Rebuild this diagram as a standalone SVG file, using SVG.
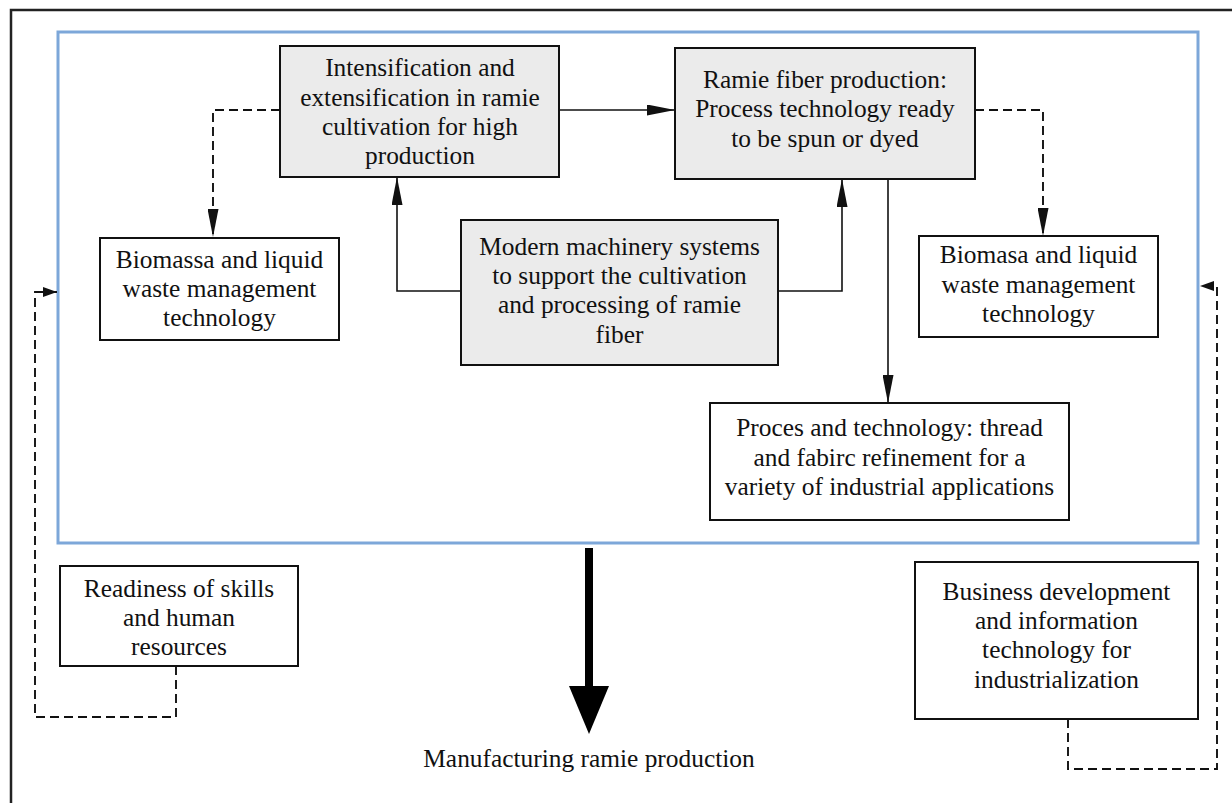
<svg xmlns="http://www.w3.org/2000/svg" width="1232" height="803" viewBox="0 0 1232 803">
<style>
.box{fill:#fff;stroke:#111;stroke-width:2}
.gray{fill:#ebebeb}
.t{font-family:"Liberation Serif","Times New Roman",serif;font-size:25.4px;fill:#111;text-anchor:middle}
.ln{fill:none;stroke:#111;stroke-width:1.6}
.dash{stroke-dasharray:9,5;stroke-width:1.9}
</style>
<defs>
<marker id="ah" markerUnits="userSpaceOnUse" markerWidth="28" markerHeight="11" refX="28" refY="5.5" orient="auto"><path d="M0,0 L28,5.5 L0,11 z" fill="#111"/></marker>
<marker id="ahs" markerUnits="userSpaceOnUse" markerWidth="14" markerHeight="10" refX="14" refY="5" orient="auto"><path d="M0,0 L14,5 L0,10 z" fill="#111"/></marker>
</defs>
<rect width="1232" height="803" fill="#fff"/>
<path d="M11,803 V10 H1232" fill="none" stroke="#222" stroke-width="2.5"/>
<rect x="58" y="32" width="1140" height="511" fill="none" stroke="#7da7d9" stroke-width="3"/>
<g id="connectors">
<path class="ln" d="M559,110 H675" marker-end="url(#ah)"/>
<path class="ln dash" d="M280,110 H213 V237" marker-end="url(#ah)"/>
<path class="ln" d="M461,291 H397 V177" marker-end="url(#ah)"/>
<path class="ln" d="M778,291 H842 V179" marker-end="url(#ah)"/>
<path class="ln" d="M888,179 V403" marker-end="url(#ah)"/>
<path class="ln dash" d="M975,110 H1043 V236" marker-end="url(#ah)"/>
<path class="ln dash" d="M176,666 V717 H35 V292 H57" marker-end="url(#ahs)"/>
<path class="ln dash" d="M1068,719 V769 H1217 V286 H1200" marker-end="url(#ahs)"/>
<rect x="585" y="548" width="8" height="140" fill="#000"/>
<polygon points="569,686 609,686 589,734" fill="#000"/>
</g>
<g id="n-intens">
<rect class="box gray" x="280" y="46" width="279" height="131"/>
<text class="t" x="420" y="76">Intensification and</text>
<text class="t" x="420" y="106">extensification in ramie</text>
<text class="t" x="420" y="135">cultivation for high</text>
<text class="t" x="420" y="164">production</text>
</g>
<g id="n-fiber">
<rect class="box gray" x="675" y="48" width="300" height="131"/>
<text class="t" x="825" y="88">Ramie fiber production:</text>
<text class="t" x="825" y="117">Process technology ready</text>
<text class="t" x="825" y="147">to be spun or dyed</text>
</g>
<g id="n-machinery">
<rect class="box gray" x="461" y="220" width="317" height="145"/>
<text class="t" x="619.5" y="255">Modern machinery systems</text>
<text class="t" x="619.5" y="284">to support the cultivation</text>
<text class="t" x="619.5" y="313">and processing of ramie</text>
<text class="t" x="619.5" y="343">fiber</text>
</g>
<g id="n-biomass-left">
<rect class="box" x="100" y="238" width="239" height="102"/>
<text class="t" x="219.5" y="268">Biomassa and liquid</text>
<text class="t" x="219.5" y="297">waste management</text>
<text class="t" x="219.5" y="326">technology</text>
</g>
<g id="n-biomass-right">
<rect class="box" x="919" y="236" width="239" height="101"/>
<text class="t" x="1038.5" y="263">Biomasa and liquid</text>
<text class="t" x="1038.5" y="293">waste management</text>
<text class="t" x="1038.5" y="322">technology</text>
</g>
<g id="n-proces">
<rect class="box" x="710" y="403" width="359" height="117"/>
<text class="t" x="889.5" y="436">Proces and technology: thread</text>
<text class="t" x="889.5" y="466">and fabirc refinement for a</text>
<text class="t" x="889.5" y="495">variety of industrial applications</text>
</g>
<g id="n-readiness">
<rect class="box" x="60" y="566" width="238" height="100"/>
<text class="t" x="179" y="597">Readiness of skills</text>
<text class="t" x="179" y="626">and human</text>
<text class="t" x="179" y="655">resources</text>
</g>
<g id="n-business">
<rect class="box" x="915" y="562" width="283" height="157"/>
<text class="t" x="1056.5" y="600">Business development</text>
<text class="t" x="1056.5" y="629">and information</text>
<text class="t" x="1056.5" y="658">technology for</text>
<text class="t" x="1056.5" y="688">industrialization</text>
</g>
<g id="n-output">
<text class="t" x="589" y="767">Manufacturing ramie production</text>
</g>
</svg>
